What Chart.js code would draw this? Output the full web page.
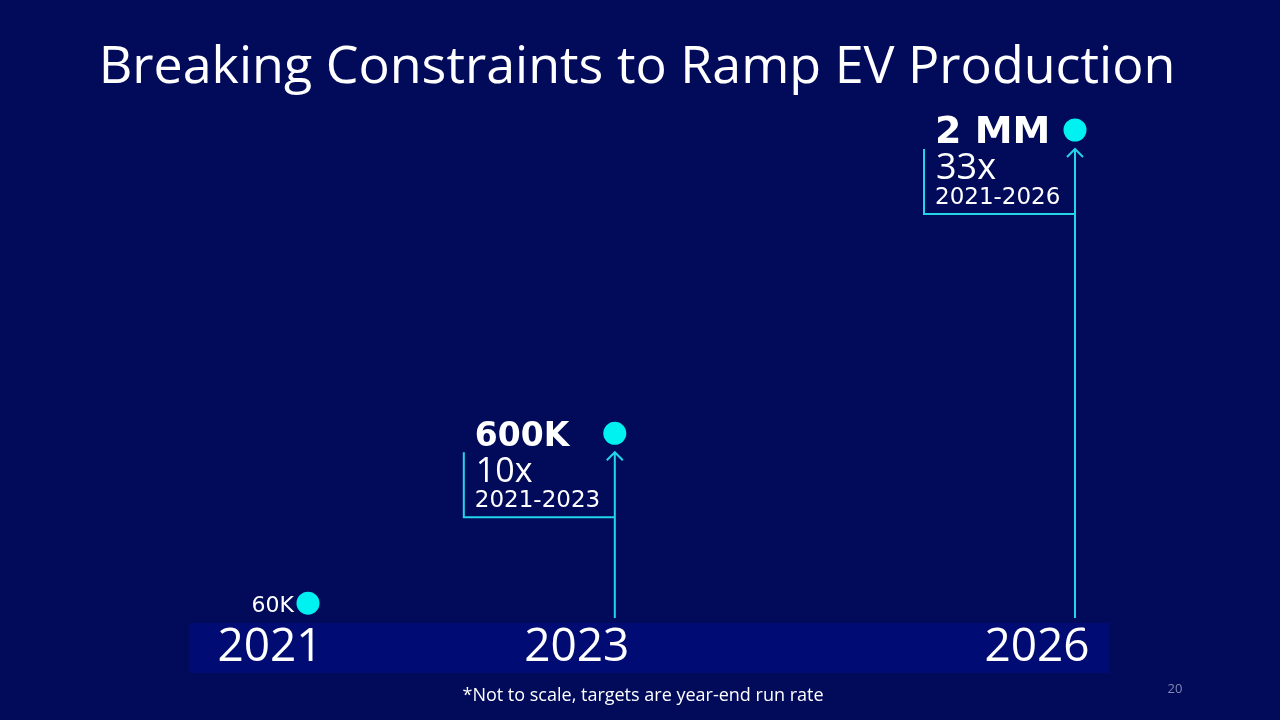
<!DOCTYPE html>
<html>
<head>
<meta charset="utf-8">
<script src="https://cdn.jsdelivr.net/npm/chart.js@4.4.1/dist/chart.umd.min.js"></script>
<style>
  html, body { margin: 0; padding: 0; background: #020A5A; }
  #wrap { width: 1280px; height: 720px; }
</style>
</head>
<body>
<div id="wrap"><canvas id="c" width="1280" height="720"></canvas></div>
<script>
// ---- data ----
const years = [2021, 2023, 2026];
const volumes = [60000, 600000, 2000000];
const valueLabels = ['60K', '600K', '2 MM'];
const growthLabels = [null, '10x', '33x'];
const rangeLabels = [null, '2021-2023', '2021-2026'];
const titleText = 'Breaking Constraints to Ramp EV Production';
const footnoteText = '*Not to scale, targets are year-end run rate';
const pageNumber = '20';

// ---- styles ----
const BG = '#020A5A';
const BAND = '#000C73';
const CYAN_PT = '#00F2F0';
const CYAN_LN = '#22D6E8';
const valueFont = ['500 22px "DejaVu Sans"', 'bold 33px "DejaVu Sans"', 'bold 38px "DejaVu Sans"'];
const growthFont = [null, '500 34px "Open Sans"', '500 36px "Open Sans"'];
const rangeFont = '23px "DejaVu Sans"';

// "Not to scale" display: power-transformed value axis
class PowerScale extends Chart.LinearScale {
  static id = 'power';
  _tf(v) { return Math.pow(Math.max(v, 0), this.options.exponent || 1); }
  getPixelForValue(value) {
    if (value === null || value === undefined) return NaN;
    const a = this._tf(this.min), b = this._tf(this.max);
    return this.getPixelForDecimal((this._tf(value) - a) / (b - a));
  }
  getValueForPixel(pixel) {
    const e = this.options.exponent || 1;
    const a = this._tf(this.min), b = this._tf(this.max);
    const d = this.getDecimalForPixel(pixel);
    return Math.pow(a + d * (b - a), 1 / e);
  }
}
Chart.register(PowerScale);

const decor = {
  id: 'decor',
  beforeDraw(chart) {
    const ctx = chart.ctx, ca = chart.chartArea;
    ctx.save();
    ctx.fillStyle = BG;
    ctx.fillRect(0, 0, chart.width, chart.height);
    ctx.fillStyle = BAND;
    ctx.fillRect(ca.left - 119, ca.bottom - 17, (ca.right + 34) - (ca.left - 119), 50);
    ctx.restore();
  },
  afterDatasetsDraw(chart) {
    const ctx = chart.ctx, ca = chart.chartArea;
    const meta = chart.getDatasetMeta(0);
    ctx.save();
    meta.data.forEach((pt, i) => {
      const px = pt.x, py = pt.y;
      ctx.fillStyle = '#FFFFFF';
      ctx.textBaseline = 'alphabetic';
      if (!growthLabels[i]) {
        ctx.font = valueFont[i];
        ctx.textAlign = 'right';
        ctx.fillText(valueLabels[i], px - 14, py + 9);
        return;
      }
      // arrow
      const tip = py + 19;
      ctx.strokeStyle = CYAN_LN;
      ctx.lineWidth = 2;
      ctx.beginPath();
      ctx.moveTo(px, ca.bottom - 22);
      ctx.lineTo(px, tip);
      ctx.moveTo(px - 8, tip + 8);
      ctx.lineTo(px, tip);
      ctx.lineTo(px + 8, tip + 8);
      ctx.stroke();
      // bracket
      ctx.beginPath();
      ctx.moveTo(px - 151, tip);
      ctx.lineTo(px - 151, py + 84);
      ctx.lineTo(px, py + 84);
      ctx.stroke();
      // texts
      ctx.textAlign = 'left';
      ctx.font = valueFont[i];
      ctx.fillText(valueLabels[i], px - 140, py + 13);
      ctx.font = growthFont[i];
      ctx.fillText(growthLabels[i], px - 139, py + 49);
      ctx.font = rangeFont;
      ctx.fillText(rangeLabels[i], px - 140, py + 74);
    });
    ctx.restore();
  },
  afterDraw(chart) {
    const ctx = chart.ctx;
    ctx.save();
    ctx.fillStyle = '#FFFFFF';
    ctx.textAlign = 'center';
    ctx.textBaseline = 'alphabetic';
    ctx.font = '500 52px "Open Sans"';
    ctx.fillText(titleText, 637, 83);
    ctx.font = '500 18px "Open Sans"';
    ctx.fillText(footnoteText, 643, 701);
    ctx.fillStyle = '#8088B4';
    ctx.font = '13px "Open Sans"';
    ctx.fillText(pageNumber, 1175, 693);
    ctx.restore();
  }
};

new Chart(document.getElementById('c'), {
  type: 'line',
  data: {
    datasets: [{
      data: years.map((y, i) => ({ x: y, y: volumes[i] })),
      showLine: false,
      pointRadius: 11.5,
      pointHoverRadius: 11.5,
      pointBackgroundColor: CYAN_PT,
      pointBorderColor: CYAN_PT,
      pointBorderWidth: 0,
      clip: false
    }]
  },
  options: {
    responsive: false,
    animation: false,
    events: [],
    layout: { padding: { left: 308, right: 205, top: 130, bottom: 40 } },
    plugins: { legend: { display: false }, tooltip: { enabled: false }, title: { display: false } },
    scales: {
      x: {
        type: 'linear',
        min: years[0],
        max: years[years.length - 1],
        grid: { display: false, drawTicks: false },
        border: { display: false },
        afterBuildTicks: (s) => { s.ticks = years.map(v => ({ value: v })); },
        afterFit: (s) => { s.height = 40; },
        ticks: {
          color: '#FFFFFF',
          font: { family: 'Open Sans', size: 46, weight: '500', lineHeight: 1 },
          mirror: true,
          padding: -31,
          labelOffset: -38,
          maxRotation: 0,
          autoSkip: false,
          callback: (v) => String(v)
        }
      },
      y: {
        type: 'power',
        exponent: 0.75,
        min: 0,
        max: volumes[volumes.length - 1],
        display: false
      }
    }
  },
  plugins: [decor]
});
</script>
</body>
</html>
